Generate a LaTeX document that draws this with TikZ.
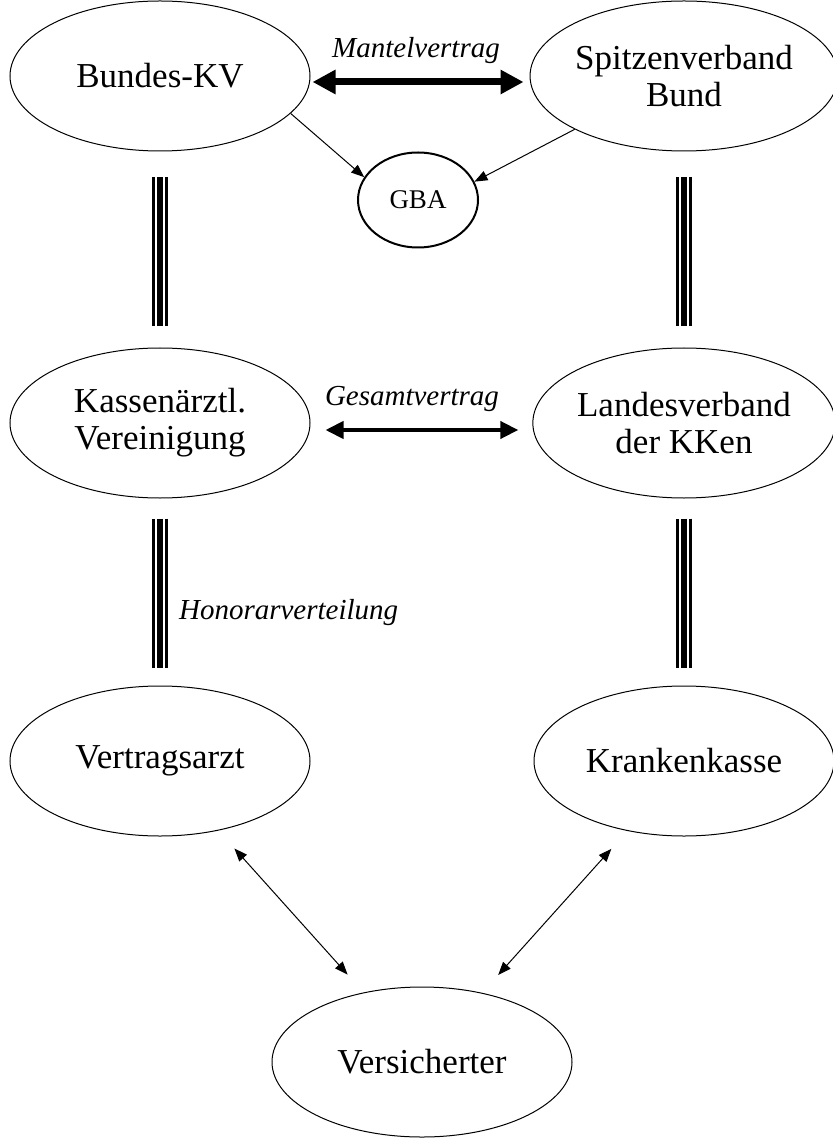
\documentclass[tikz,border=0pt]{standalone}
\usepackage{fontspec}
\setmainfont{Liberation Serif}
\usetikzlibrary{shapes.geometric,arrows.meta}

\begin{document}
\begin{tikzpicture}
[x=0.5pt,y=-0.5pt,
 party/.style={ellipse,draw,line width=0.5pt,minimum width=150pt,minimum height=75pt,
   inner sep=0pt,align=center,font=\fontsize{17.5}{18.5}\selectfont},
 vertraglabel/.style={font=\fontsize{14.5}{16}\selectfont\itshape},
 bigarrow/.style={line width=3.5pt,{Triangle[length=11.5pt,width=11.5pt]}-{Triangle[length=11.5pt,width=11.5pt]}},
 midarrow/.style={line width=2pt,{Triangle[length=9pt,width=8.5pt]}-{Triangle[length=9pt,width=8.5pt]}},
 thinarrow/.style={line width=0.5pt,-{Triangle[length=6.5pt,width=5pt]}},
 thindouble/.style={line width=0.5pt,{Triangle[length=6.5pt,width=5pt]}-{Triangle[length=6.5pt,width=5pt]}}]
\useasboundingbox (0,0) rectangle (833,1138);

%% the parties
\node[party] (bkv)  at (160,76)   {Bundes-KV};
\node[party] (spib) at (684,76)   {Spitzenverband\\Bund};
\node[party] (kv)   at (160,423)  {Kassenärztl.\\Vereinigung};
\node[party] (lv)   at (684,423)  {Landesverband\\der KKen};
\node[party] (arzt) at (160,761)  {Vertragsarzt};
\node[party] (kk)   at (684,761)  {Krankenkasse};
\node[party] (vers) at (422,1062) {Versicherter};
\node[ellipse,draw,line width=1pt,minimum width=60pt,minimum height=47.5pt,inner sep=0pt,
  font=\fontsize{13.5}{15}\selectfont] (gba) at (418,200) {GBA};

%% contracts
\draw[bigarrow,shorten <=1pt,shorten >=3pt] ([yshift=-3pt]bkv.east) -- ([yshift=-3pt]spib.west);
\node[vertraglabel,anchor=base] (mantel) at (416,58) {Mantelvertrag};
\draw[midarrow,shorten <=7.5pt,shorten >=7pt] ([yshift=-3.5pt]kv.east) -- ([yshift=-3.5pt]lv.west);
\node[vertraglabel,anchor=base] (gesamt) at (412,405) {Gesamtvertrag};

%% the triple lines
\foreach \a/\b/\s/\e in {bkv/kv/13pt/10.5pt, kv/arzt/10pt/9pt, spib/lv/13pt/10.5pt, lv/kk/10pt/9pt}
{
  \draw[line width=8pt,shorten <=\s,shorten >=\e] (\a.south) -- (\b.north);
  \draw[white,line width=5pt,shorten <=\s,shorten >=\e] (\a.south) -- (\b.north);
  \draw[line width=3pt,shorten <=\s,shorten >=\e] (\a.south) -- (\b.north);
}
\node[vertraglabel,anchor=base west] (honorar) at (172,619) {Honorarverteilung};

%% GBA
\draw[thinarrow] (bkv.-16) -- (gba.157);
\draw[thinarrow] (spib.-154) -- (gba.18);

%% insured
\draw[thindouble,shorten <=12pt,shorten >=12pt] (arzt.-50.5) -- (vers.130.5);
\draw[thindouble,shorten <=12pt,shorten >=12pt] (kk.-129.5) -- (vers.49.5);
\end{tikzpicture}
\end{document}
